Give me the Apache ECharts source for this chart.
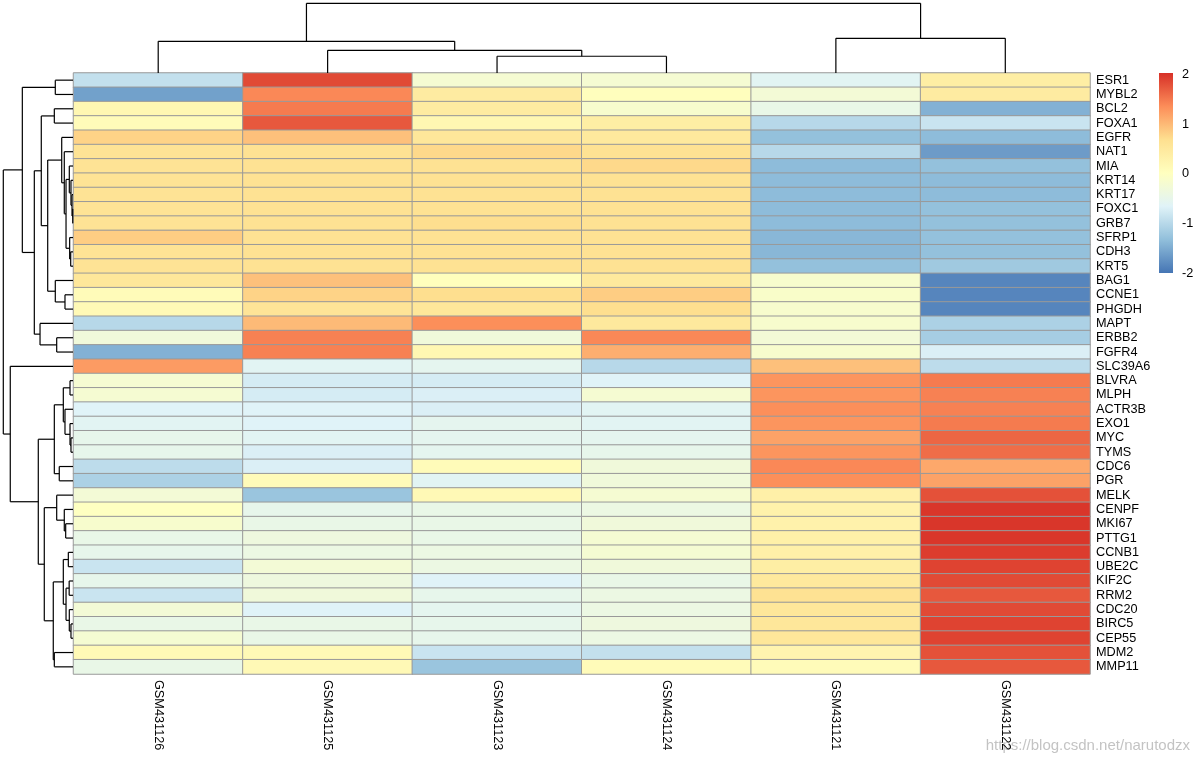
<!DOCTYPE html>
<html>
<head>
<meta charset="utf-8">
<script src="https://cdn.jsdelivr.net/npm/echarts@6/dist/echarts.min.js"></script>
<style>html,body{margin:0;padding:0;background:#fff}#c{width:1200px;height:760px}</style>
</head>
<body>
<div id="c"></div>
<script>
// ---------- data ----------
const colLabels = ['GSM431126','GSM431125','GSM431123','GSM431124','GSM431121','GSM431122'];
const rowLabels = ['ESR1','MYBL2','BCL2','FOXA1','EGFR','NAT1','MIA','KRT14','KRT17','FOXC1','GRB7','SFRP1','CDH3','KRT5','BAG1','CCNE1','PHGDH','MAPT','ERBB2','FGFR4','SLC39A6','BLVRA','MLPH','ACTR3B','EXO1','MYC','TYMS','CDC6','PGR','MELK','CENPF','MKI67','PTTG1','CCNB1','UBE2C','KIF2C','RRM2','CDC20','BIRC5','CEP55','MDM2','MMP11'];

const GSM431126 = [-0.9,-1.6,0.2,0.1,0.8,0.62,0.62,0.62,0.62,0.62,0.62,0.85,0.62,0.62,0.55,0.1,0.15,-1.0,-0.3,-1.45,1.25,-0.2,-0.2,-0.65,-0.6,-0.5,-0.5,-0.95,-1.1,-0.25,0.0,-0.15,-0.45,-0.5,-0.85,-0.5,-0.85,-0.25,-0.45,-0.2,0.15,-0.45];
const GSM431125 = [1.85,1.4,1.5,1.75,0.95,0.65,0.65,0.65,0.65,0.65,0.65,0.65,0.65,0.65,0.95,0.8,0.6,1.0,1.45,1.45,-0.6,-0.75,-0.75,-0.65,-0.65,-0.6,-0.7,-0.7,0.1,-1.25,-0.5,-0.45,-0.35,-0.4,-0.25,-0.35,-0.3,-0.65,-0.45,-0.45,0.15,0.15];
const GSM431123 = [-0.2,0.45,0.45,0.2,0.55,0.75,0.65,0.65,0.65,0.65,0.7,0.65,0.65,0.65,0.05,0.7,0.55,1.35,-0.3,0.2,-0.55,-0.75,-0.7,-0.7,-0.55,-0.55,-0.55,0.1,-0.6,0.15,-0.45,-0.45,-0.45,-0.4,-0.4,-0.65,-0.5,-0.55,-0.5,-0.5,-0.85,-1.25];
const GSM431124 = [-0.2,0.05,-0.15,0.4,0.5,0.65,0.75,0.65,0.65,0.65,0.65,0.65,0.65,0.65,0.5,0.85,0.7,0.5,1.4,1.1,-1.0,-0.65,-0.2,-0.6,-0.6,-0.55,-0.5,-0.3,-0.3,-0.2,-0.4,-0.3,-0.2,-0.2,-0.3,-0.45,-0.4,-0.4,-0.35,-0.4,-0.9,0.1];
const GSM431121 = [-0.6,-0.25,-0.45,-1.0,-1.3,-1.0,-1.35,-1.35,-1.35,-1.35,-1.35,-1.4,-1.4,-1.3,-0.15,-0.1,-0.15,-0.15,-0.25,-0.15,0.95,1.3,1.3,1.35,1.3,1.2,1.3,1.4,1.35,0.35,0.3,0.3,0.35,0.35,0.4,0.5,0.65,0.55,0.55,0.55,0.25,0.1];
const GSM431122 = [0.4,0.45,-1.45,-0.85,-1.35,-1.65,-1.3,-1.35,-1.35,-1.3,-1.3,-1.3,-1.3,-1.2,-1.85,-1.85,-1.85,-1.1,-1.15,-0.7,-0.95,1.5,1.45,1.45,1.5,1.65,1.6,1.15,1.2,1.8,2.0,2.0,2.0,1.95,1.9,1.85,1.75,1.85,1.9,1.9,1.8,1.75];

// column dendrogram merges (hclust style: negative = leaf in display order, positive = earlier merge), last value = height
const colMerge = [[-3,-4,24.0],[-2,1,32.6],[-1,2,45.5],[-5,-6,49.8],[3,4,100]];
// row dendrogram merges
const rowMerge = [
 [-10,-11,0.4],[-9,1,1.4],[-8,2,2.9],[-7,3,5.3],[-13,-14,3.3],[-12,5,4.8],[4,6,10.0],[-6,7,12.5],[-5,8,16.2],
 [-16,-17,11.5],[-15,10,25.4],[9,11,36.3],[-3,-4,26.8],[13,12,45.5],[-19,-20,23.4],[-18,15,47.3],[14,16,55.5],
 [-1,-2,25.4],[18,17,72.7],[-22,-23,4.3],[-26,-27,2.9],[-25,21,4.3],[-24,22,11.5],[20,23,13.9],[-28,-29,19.7],
 [24,25,26.8],[-32,-33,10.5],[-31,27,12.5],[-30,28,23.4],[-34,-35,6.7],[-36,-37,5.5],[-39,-40,2.9],[-38,32,5.3],
 [31,33,10.0],[30,34,13.9],[-41,-42,26.8],[35,36,28.3],[29,37,41.2],[26,38,49.8],[-21,39,90.0],[19,40,100]
];
const legendTicks = [-2,-1,0,1,2];
const valueMin = -2, valueMax = 2.04;
const palette = ['#4575B4','#91BFDB','#E0F3F8','#FFFFBF','#FEE090','#FC8D59','#D73027'];

// ---------- build ----------
const columns = [GSM431126,GSM431125,GSM431123,GSM431124,GSM431121,GSM431122];
const heatData = [];
columns.forEach((col, ci) => col.forEach((v, ri) => heatData.push([ci, ri, v])));

function dendroSegments(merge) {
  const pos = [], ht = [];
  const P = k => k < 0 ? (-k - 0.5) : pos[k - 1];
  const H = k => k < 0 ? 0 : ht[k - 1];
  const segs = [];
  merge.forEach(([a, b, h]) => {
    const pa = P(a), pb = P(b), ha = H(a), hb = H(b);
    segs.push([pa, ha, pa, h], [pa, h, pb, h], [pb, h, pb, hb]);
    pos.push((pa + pb) / 2); ht.push(h);
  });
  return segs;
}
const colSegs = dendroSegments(colMerge);
const rowSegs = dendroSegments(rowMerge).map(s => [s[1], s[0], s[3], s[2]]);

function lineRender(params, api) {
  const p1 = api.coord([api.value(0), api.value(1)]);
  const p2 = api.coord([api.value(2), api.value(3)]);
  return { type: 'line', shape: { x1: p1[0], y1: p1[1], x2: p2[0], y2: p2[1] },
           style: { stroke: '#000', lineWidth: 1.2 } };
}

const FONT = 'Liberation Sans, Arial, sans-serif';
const GL = 73.5, GT = 73, GW = 1016.5, GH = 601;

const chart = echarts.init(document.getElementById('c'), null, { renderer: 'canvas' });
chart.setOption({
  backgroundColor: '#fff',
  animation: false,
  grid: [
    { left: GL, top: GT, width: GW, height: GH },
    { left: GL, top: 3.3, width: GW, height: GT - 3.3 },
    { left: 3.3, top: GT, width: GL - 3.3 - 0.5, height: GH },
    { left: 1159, top: 73, width: 14, height: 200 }
  ],
  xAxis: [
    { gridIndex: 0, type: 'category', data: colLabels, position: 'bottom',
      axisLine: { show: false }, axisTick: { show: false }, splitLine: { show: false },
      axisLabel: { rotate: -90, margin: 6, color: '#000', fontSize: 12.7, fontFamily: FONT, interval: 0 } },
    { gridIndex: 1, type: 'value', min: 0, max: colLabels.length, show: false },
    { gridIndex: 2, type: 'value', min: 0, max: 100, inverse: true, show: false },
    { gridIndex: 3, type: 'value', min: 0, max: 1, show: false }
  ],
  yAxis: [
    { gridIndex: 0, type: 'category', data: rowLabels, inverse: true, position: 'right',
      axisLine: { show: false }, axisTick: { show: false }, splitLine: { show: false },
      axisLabel: { margin: 6, color: '#000', fontSize: 12.7, fontFamily: FONT, interval: 0 } },
    { gridIndex: 1, type: 'value', min: 0, max: 100, show: false },
    { gridIndex: 2, type: 'value', min: 0, max: rowLabels.length, inverse: true, show: false },
    { gridIndex: 3, type: 'value', min: valueMin, max: valueMax, position: 'right',
      axisLine: { show: false }, axisTick: { show: false }, splitLine: { show: false },
      axisLabel: { customValues: legendTicks, margin: 9, color: '#000', fontSize: 12.7, fontFamily: FONT } }
  ],
  visualMap: {
    show: false, type: 'continuous', min: valueMin, max: valueMax, seriesIndex: 0, dimension: 2,
    inRange: { color: palette }
  },
  series: [
    { type: 'heatmap', xAxisIndex: 0, yAxisIndex: 0, data: heatData,
      itemStyle: { borderColor: '#999999', borderWidth: 1 },
      emphasis: { disabled: true }, label: { show: false } },
    { type: 'custom', xAxisIndex: 1, yAxisIndex: 1, data: colSegs, renderItem: lineRender,
      encode: { x: [0, 2], y: [1, 3] }, silent: true },
    { type: 'custom', xAxisIndex: 2, yAxisIndex: 2, data: rowSegs, renderItem: lineRender,
      encode: { x: [0, 2], y: [1, 3] }, silent: true },
    { type: 'custom', xAxisIndex: 3, yAxisIndex: 3, data: [[valueMin, valueMax]], silent: true,
      encode: { y: [0, 1] },
      renderItem: (params, api) => {
        const top = api.coord([0, api.value(1)]);
        const bot = api.coord([1, api.value(0)]);
        const stops = palette.map((c, i) => ({ offset: 1 - i / (palette.length - 1), color: c }));
        return { type: 'rect', shape: { x: top[0], y: top[1], width: bot[0] - top[0], height: bot[1] - top[1] },
                 style: { fill: new echarts.graphic.LinearGradient(0, 0, 0, 1, stops.reverse()) } };
      } }
  ],
  graphic: [
    { type: 'text', right: 10, bottom: 7, silent: true,
      style: { text: 'https://blog.csdn.net/narutodzx', fill: 'rgba(185,185,185,0.85)',
               font: '15px ' + FONT } }
  ]
});
</script>
</body>
</html>
